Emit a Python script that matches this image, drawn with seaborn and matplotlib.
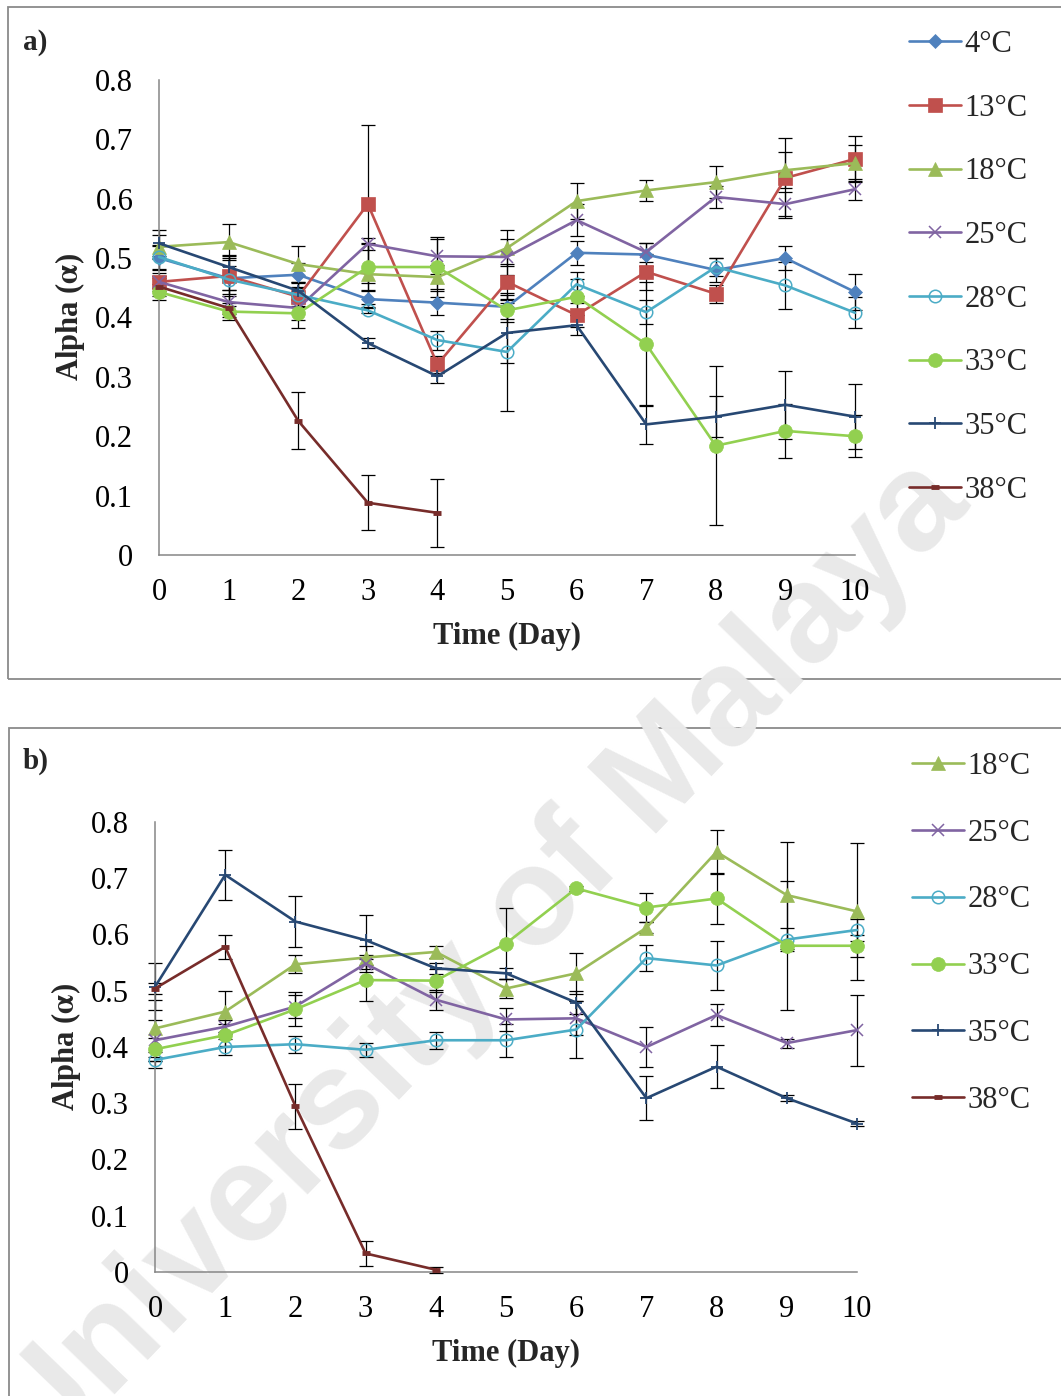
import matplotlib
matplotlib.use("Agg")
import matplotlib.pyplot as plt
from matplotlib.patches import Rectangle
import seaborn as sns
import numpy as np

# ---------------- data ----------------
days = [0, 1, 2, 3, 4, 5, 6, 7, 8, 9, 10]
days_short = [0, 1, 2, 3, 4]

# panel a
a_labels = ["4°C", "13°C", "18°C", "25°C", "28°C", "33°C", "35°C", "38°C"]
a_4 = [0.500, 0.466, 0.472, 0.431, 0.425, 0.418, 0.509, 0.506, 0.480, 0.500, 0.443]
a_13 = [0.460, 0.470, 0.435, 0.591, 0.321, 0.460, 0.404, 0.477, 0.440, 0.635, 0.667]
a_18 = [0.519, 0.527, 0.490, 0.473, 0.468, 0.517, 0.596, 0.614, 0.628, 0.648, 0.660]
a_25 = [0.460, 0.426, 0.416, 0.524, 0.503, 0.502, 0.564, 0.510, 0.603, 0.591, 0.616]
a_28 = [0.502, 0.464, 0.438, 0.412, 0.362, 0.342, 0.456, 0.409, 0.485, 0.454, 0.408]
a_33 = [0.443, 0.410, 0.407, 0.485, 0.485, 0.412, 0.435, 0.355, 0.184, 0.209, 0.200]
a_35 = [0.525, 0.485, 0.445, 0.357, 0.301, 0.374, 0.387, 0.220, 0.233, 0.253, 0.233]
a_38 = [0.452, 0.416, 0.226, 0.088, 0.071]

ea_4 = [0.02, 0.02, 0.02, 0.015, 0.02, 0.02, 0.02, 0.02, 0.02, 0.02, 0.03]
ea_13 = [0.015, 0.03, 0.015, 0.133, 0.015, 0.03, 0.02, 0.03, 0.015, 0.067, 0.038]
ea_18 = [0.02, 0.03, 0.03, 0.05, 0.02, 0.03, 0.03, 0.018, 0.027, 0.03, 0.03]
ea_25 = [0.01, 0.02, 0.02, 0.01, 0.03, 0.03, 0.027, 0.016, 0.018, 0.02, 0.018]
ea_28 = [0.02, 0.04, 0.02, 0.005, 0.016, 0.10, 0.02, 0.02, 0.015, 0.04, 0.026]
ea_33 = [0.013, 0.009, 0.025, 0.04, 0.05, 0.02, 0.03, 0.104, 0.134, 0.045, 0.035]
ea_35 = [0.022, 0.02, 0.015, 0.009, 0.011, 0.05, 0.017, 0.033, 0.035, 0.057, 0.055]
ea_38 = [0.015, 0.02, 0.048, 0.046, 0.057]

# panel b
b_labels = ["18°C", "25°C", "28°C", "33°C", "35°C", "38°C"]
b_18 = [0.433, 0.463, 0.547, 0.559, 0.569, 0.504, 0.531, 0.612, 0.747, 0.670, 0.641]
b_25 = [0.412, 0.436, 0.472, 0.548, 0.484, 0.449, 0.451, 0.400, 0.457, 0.407, 0.430]
b_28 = [0.377, 0.400, 0.405, 0.395, 0.412, 0.412, 0.431, 0.558, 0.545, 0.591, 0.608]
b_33 = [0.396, 0.421, 0.467, 0.519, 0.518, 0.584, 0.682, 0.648, 0.664, 0.580, 0.580]
b_35 = [0.507, 0.706, 0.623, 0.590, 0.540, 0.531, 0.479, 0.309, 0.365, 0.309, 0.264]
b_38 = [0.504, 0.578, 0.295, 0.033, 0.004]

eb_18 = [0.05, 0.037, 0.016, 0.02, 0.01, 0.017, 0.036, 0.01, 0.039, 0.095, 0.122]
eb_25 = [0.036, 0.012, 0.02, 0.015, 0.018, 0.02, 0.03, 0.036, 0.019, 0.008, 0.063]
eb_28 = [0.015, 0.015, 0.015, 0.012, 0.015, 0.029, 0.05, 0.023, 0.043, 0.02, 0.02]
eb_33 = [0.02, 0.02, 0.03, 0.038, 0.02, 0.063, 0.005, 0.026, 0.045, 0.115, 0.02]
eb_35 = [0.042, 0.045, 0.045, 0.045, 0.01, 0.01, 0.02, 0.039, 0.038, 0.005, 0.005]
eb_38 = [0.01, 0.022, 0.04, 0.022, 0.005]

y_ticks = [0, 0.1, 0.2, 0.3, 0.4, 0.5, 0.6, 0.7, 0.8]
y_ticklabels = ["0", "0.1", "0.2", "0.3", "0.4", "0.5", "0.6", "0.7", "0.8"]
x_ticklabels = [str(d) for d in days]

# ---------------- styles ----------------
STY = {
    "4°C":  dict(color="#4F81BD", marker="D", markersize=7, mfc="#4F81BD", mew=0.5),
    "13°C": dict(color="#C0504D", marker="s", markersize=10, mfc="#C0504D", mew=0.5),
    "18°C": dict(color="#9BBB59", marker="^", markersize=10, mfc="#9BBB59", mew=0.5),
    "25°C": dict(color="#8064A2", marker="x", markersize=9, mfc="#8064A2", mew=1.1),
    "28°C": dict(color="#4BACC6", marker="o", markersize=9, mfc="none", mew=1.1),
    "33°C": dict(color="#92D050", marker="o", markersize=10, mfc="#92D050", mew=0.5),
    "35°C": dict(color="#274873", marker="+", markersize=9, mfc="#274873", mew=1.3),
    "38°C": dict(color="#772C2A", marker="_", markersize=6, mfc="#772C2A", mew=3.5),
}

sns.set_theme(style="white")
plt.rcParams["font.family"] = ["Liberation Serif", "DejaVu Serif"]
plt.rcParams["mathtext.fontset"] = "stix"

W, H = 1061, 1396
fig = plt.figure(figsize=(W / 100, H / 100), dpi=100)
fig.patch.set_facecolor("white")

GRAY = "#868686"
FS_TICK = 22
FS_LAB = 22
FS_LEG = 22


def px_rect(l, t, r, b):
    return [l / W, 1 - b / H, (r - l) / W, (b - t) / H]


# frames
for (l, t, r, b) in [(8, 7, 1075, 679), (9, 728, 1075, 1410)]:
    fig.add_artist(Rectangle((l / W, 1 - b / H), (r - l) / W, (b - t) / H,
                             transform=fig.transFigure, fill=False,
                             edgecolor="#8a8a8a", linewidth=1.3, zorder=-2,
                             clip_on=False))

# watermark
fig.text(480 / W, 1 - 965 / H, "University of Malaya", rotation=46,
         fontsize=100, fontweight="bold", color="#e9e9e9", ha="center",
         va="center", family=["Liberation Sans", "DejaVu Sans"], zorder=-1,
         rotation_mode="anchor")


def draw_panel(ax, series, label_x, label_y_top):
    for lbl, x, y, e in series:
        ax.errorbar(x, y, yerr=e, fmt="none", ecolor="black", elinewidth=0.9,
                    capsize=5, capthick=0.9, zorder=2, clip_on=False,
                    label="_nolegend_")
    for lbl, x, y, e in series:
        s = STY[lbl]
        sns.lineplot(x=x, y=y, ax=ax, color=s["color"], linewidth=1.9,
                     marker=s["marker"], markersize=s["markersize"],
                     markerfacecolor=s["mfc"], markeredgecolor=s["color"],
                     markeredgewidth=s["mew"], label=lbl, zorder=3,
                     clip_on=False, legend=False)
    ax.set_xlim(0, 10)
    ax.set_ylim(0, 0.8)
    ax.set_xticks(days)
    ax.set_xticklabels(x_ticklabels)
    ax.set_yticks(y_ticks)
    ax.set_yticklabels(y_ticklabels)
    ax.set_facecolor("none")
    for sp in ["top", "right"]:
        ax.spines[sp].set_visible(False)
    for sp in ["left", "bottom"]:
        ax.spines[sp].set_color(GRAY)
        ax.spines[sp].set_linewidth(1.1)
    ax.tick_params(axis="both", which="major", direction="out", length=6.5,
                   width=1.0, color=GRAY, labelcolor="black", labelsize=FS_TICK)
    ax.tick_params(axis="x", pad=10)
    ax.tick_params(axis="y", pad=12)
    ax.set_xlabel("Time (Day)", fontsize=FS_LAB, fontweight="bold")
    ax.set_ylabel(r"Alpha ($\mathbf{\alpha}$)", fontsize=FS_LAB, fontweight="bold")
    ax.yaxis.set_label_coords(label_x, 0.5)
    ax.xaxis.set_label_coords(0.5, label_y_top)


# panel a
ax1 = fig.add_axes(px_rect(159, 80, 855, 555))
series_a = [
    ("4°C", days, a_4, ea_4), ("13°C", days, a_13, ea_13),
    ("18°C", days, a_18, ea_18), ("25°C", days, a_25, ea_25),
    ("28°C", days, a_28, ea_28), ("33°C", days, a_33, ea_33),
    ("35°C", days, a_35, ea_35), ("38°C", days_short, a_38, ea_38),
]
draw_panel(ax1, series_a, -0.103, -0.14)

# panel b
ax2 = fig.add_axes(px_rect(155, 822, 857, 1272))
series_b = [
    ("18°C", days, b_18, eb_18), ("25°C", days, b_25, eb_25),
    ("28°C", days, b_28, eb_28), ("33°C", days, b_33, eb_33),
    ("35°C", days, b_35, eb_35), ("38°C", days_short, b_38, eb_38),
]
draw_panel(ax2, series_b, -0.103, -0.148)

# legends
for ax, x0, ytop, spacing in [(ax1, 909, 30, 1.135), (ax2, 912, 752, 1.235)]:
    h, l = ax.get_legend_handles_labels()
    ax.legend(h, l, loc="upper left", bbox_to_anchor=(x0 / W, 1 - ytop / H),
              bbox_transform=fig.transFigure, frameon=False, fontsize=FS_LEG,
              handlelength=1.7, handletextpad=0.12, labelspacing=spacing,
              borderpad=0, borderaxespad=0, numpoints=1)

fig.text(23 / W, 1 - 42 / H, "a)", fontsize=21, fontweight="bold",
         ha="left", va="center")
fig.text(23 / W, 1 - 761 / H, "b)", fontsize=21, fontweight="bold",
         ha="left", va="center")

fig.savefig("out.png", dpi=100, facecolor="white")
